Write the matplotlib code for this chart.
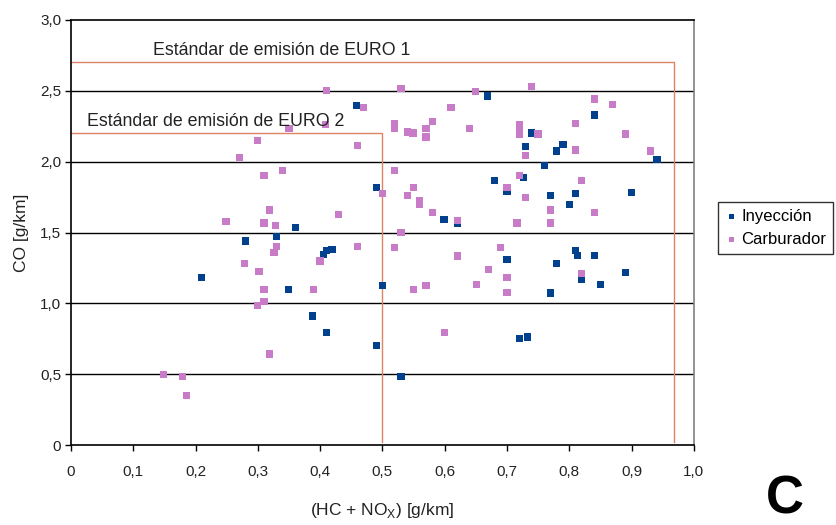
import matplotlib
matplotlib.use("Agg")
import matplotlib.pyplot as plt
from matplotlib.ticker import FuncFormatter

plt.rcParams['font.family'] = ['Liberation Sans', 'DejaVu Sans']

# Inyeccion (blue squares)
iny_x = [0.669, 0.459, 0.490, 0.599, 0.620, 0.360, 0.840, 0.740, 0.730, 0.790,
         0.780, 0.941, 0.760, 0.680, 0.726, 0.700, 0.770, 0.810, 0.900, 0.800,
         0.330, 0.280, 0.209, 0.410, 0.405, 0.419, 0.349, 0.500, 0.388, 0.410,
         0.490, 0.530, 0.700, 0.780, 0.810, 0.813, 0.840, 0.820, 0.850, 0.890,
         0.770, 0.720, 0.733]
iny_y = [2.463, 2.395, 1.820, 1.595, 1.565, 1.538, 2.329, 2.202, 2.105, 2.120,
         2.075, 2.016, 1.971, 1.865, 1.886, 1.788, 1.759, 1.776, 1.783, 1.700,
         1.470, 1.440, 1.183, 1.371, 1.348, 1.378, 1.100, 1.124, 0.912, 0.795,
         0.706, 0.487, 1.310, 1.280, 1.371, 1.341, 1.341, 1.167, 1.131, 1.221,
         1.073, 0.750, 0.764]

# Carburador (pink squares)
car_x = [0.300, 0.270, 0.310, 0.319, 0.249, 0.310, 0.329, 0.410, 0.530, 0.650,
         0.470, 0.610, 0.580, 0.520, 0.520, 0.350, 0.409, 0.540, 0.549, 0.570,
         0.570, 0.640, 0.460, 0.340, 0.520, 0.500, 0.550, 0.540, 0.560, 0.560,
         0.430, 0.580, 0.620, 0.530, 0.740, 0.840, 0.870, 0.810, 0.720, 0.720,
         0.720, 0.750, 0.890, 0.810, 0.730, 0.930, 0.720, 0.820, 0.700, 0.730,
         0.770, 0.840, 0.716, 0.770, 0.330, 0.326, 0.278, 0.302, 0.310, 0.310,
         0.300, 0.319, 0.149, 0.179, 0.185, 0.460, 0.400, 0.520, 0.620, 0.670,
         0.390, 0.550, 0.570, 0.651, 0.600, 0.690, 0.700, 0.700, 0.820]
car_y = [2.150, 2.030, 1.900, 1.660, 1.580, 1.567, 1.548, 2.500, 2.515, 2.493,
         2.380, 2.380, 2.284, 2.270, 2.232, 2.232, 2.263, 2.209, 2.202, 2.232,
         2.174, 2.232, 2.112, 1.940, 1.940, 1.776, 1.820, 1.762, 1.729, 1.699,
         1.628, 1.642, 1.583, 1.498, 2.529, 2.442, 2.404, 2.270, 2.265, 2.235,
         2.195, 2.195, 2.195, 2.082, 2.044, 2.075, 1.903, 1.865, 1.816, 1.745,
         1.660, 1.640, 1.567, 1.567, 1.400, 1.362, 1.280, 1.228, 1.100, 1.016,
         0.988, 0.644, 0.501, 0.487, 0.353, 1.400, 1.300, 1.393, 1.334, 1.242,
         1.100, 1.100, 1.124, 1.131, 0.795, 1.393, 1.183, 1.080, 1.212]

# emission standards
euro1_x = [0, 0.968, 0.968]
euro1_y = [2.7, 2.7, 0.02]
euro2_x = [0, 0.5, 0.5]
euro2_y = [2.2, 2.2, 0.02]

blue = '#00408C'
pink = '#C87CC8'
red = '#DD8466'

fig = plt.figure(figsize=(8.36, 5.25), dpi=100)
ax = fig.add_axes([0.0849, 0.152, 0.745, 0.810])

for yv in [0.5, 1.0, 1.5, 2.0, 2.5]:
    ax.axhline(yv, color='black', lw=1.0, zorder=1)

ax.plot(euro1_x, euro1_y, color=red, lw=1.0, zorder=2)
ax.plot(euro2_x, euro2_y, color=red, lw=1.0, zorder=2)

ax.scatter(iny_x, iny_y, marker='s', s=27, color=blue, edgecolors='none',
           zorder=3, label='Inyección')
ax.scatter(car_x, car_y, marker='s', s=27, color=pink, edgecolors='none',
           zorder=3, label='Carburador')

ax.text(0.132, 2.725, 'Estándar de emisión de EURO 1', fontsize=12.8,
        ha='left', va='bottom', color='#222222', zorder=4)
ax.text(0.026, 2.225, 'Estándar de emisión de EURO 2', fontsize=12.8,
        ha='left', va='bottom', color='#222222', zorder=4)

ax.set_xlim(0, 1.0)
ax.set_ylim(0, 3.0)
ax.set_xticks([i / 10 for i in range(11)])
ax.set_yticks([i / 2 for i in range(7)])

fmt = FuncFormatter(lambda v, p: '0' if abs(v) < 1e-9 else f'{v:.1f}'.replace('.', ','))
ax.xaxis.set_major_formatter(fmt)
ax.yaxis.set_major_formatter(fmt)
ax.tick_params(axis='x', direction='out', length=4, width=1, pad=10,
               labelsize=11, labelcolor='#222222')
ax.tick_params(axis='y', direction='out', length=4, width=1, pad=3,
               labelsize=11, labelcolor='#222222')

for s in ['left', 'bottom', 'top']:
    ax.spines[s].set_color('black')
    ax.spines[s].set_linewidth(1.2)
ax.spines['right'].set_color('#808080')
ax.spines['right'].set_linewidth(1.2)

ax.set_xlabel('(HC + NO$_\\mathregular{X}$) [g/km]', fontsize=12.5, labelpad=16,
              color='#222222')
ax.set_ylabel('CO [g/km]', fontsize=12.5, labelpad=8, color='#222222')

fig.legend(loc='upper left', bbox_to_anchor=(0.859, 0.615), frameon=True,
           fancybox=False, edgecolor='black', fontsize=12, markerscale=0.75,
           handletextpad=0.2, handlelength=0.8, borderpad=0.4,
           labelspacing=0.5, borderaxespad=0)

fig.text(0.939, 0.048, 'C', fontsize=38, fontweight='bold', ha='center',
         va='center')

fig.savefig('out.png', dpi=100)
